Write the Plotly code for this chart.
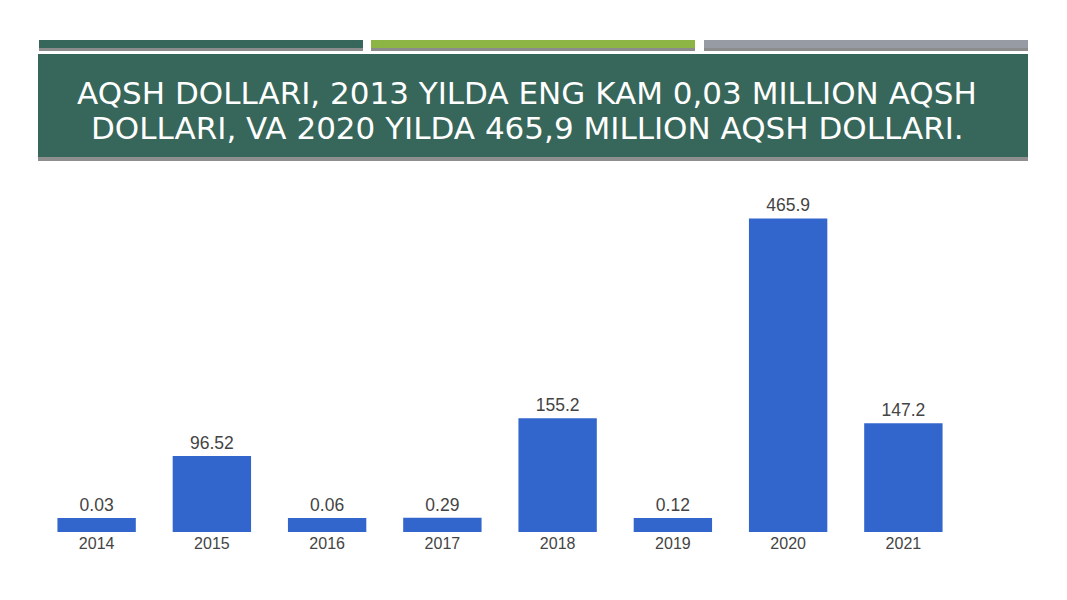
import plotly.graph_objects as go

years = ["2014", "2015", "2016", "2017", "2018", "2019", "2020", "2021"]
values = [0.03, 96.52, 0.06, 0.29, 155.2, 0.12, 465.9, 147.2]
labels = ["0.03", "96.52", "0.06", "0.29", "155.2", "0.12", "465.9", "147.2"]
title_lines = ["AQSH DOLLARI, 2013 YILDA ENG KAM 0,03 MILLION AQSH",
               "DOLLARI, VA 2020 YILDA 465,9 MILLION AQSH DOLLARI."]

W, H = 1067, 600
axis_floor = -21.8  # visual floor so tiny values remain visible as in the original

def px(x):
    return x / W

def py(y):
    return 1 - y / H

fig = go.Figure()
fig.add_trace(go.Bar(
    x=years,
    y=[v - axis_floor for v in values],
    base=axis_floor,
    marker=dict(color="#3366CC", line=dict(width=0)),
    width=0.68,
    text=labels,
    textposition="outside",
    cliponaxis=False,
    textfont=dict(family="Liberation Sans, Arial, sans-serif", size=17.5, color="#444444"),
    hoverinfo="skip",
))

shapes = []
# top strips
strips = [(39, 363, "#37665A"), (371, 695, "#8CB545"), (704, 1028, "#969BA4")]
for x0, x1, c in strips:
    shapes.append(dict(type="rect", xref="paper", yref="paper",
                       x0=px(x0), x1=px(x1), y0=py(51), y1=py(48),
                       fillcolor="#8c8c8c", line=dict(width=0), layer="below"))
    shapes.append(dict(type="rect", xref="paper", yref="paper",
                       x0=px(x0), x1=px(x1), y0=py(48), y1=py(40),
                       fillcolor=c, line=dict(width=0), layer="below"))
# title box with shadow
shapes.append(dict(type="rect", xref="paper", yref="paper",
                   x0=px(38), x1=px(1028), y0=py(161), y1=py(156),
                   fillcolor="#8f8f8f", line=dict(width=0), layer="below"))
shapes.append(dict(type="rect", xref="paper", yref="paper",
                   x0=px(38), x1=px(1028), y0=py(157), y1=py(54),
                   fillcolor="#37665A", line=dict(width=0), layer="below"))

annotations = []
for line, yc in zip(title_lines, [93, 128]):
    annotations.append(dict(
        xref="paper", yref="paper", x=px(527), y=py(yc),
        text=line, showarrow=False,
        font=dict(family="DejaVu Sans, sans-serif", size=31, color="white"),
        align="center", xanchor="center", yanchor="middle",
    ))

fig.update_layout(
    width=W, height=H,
    margin=dict(l=0, r=0, t=0, b=0),
    paper_bgcolor="white", plot_bgcolor="white",
    shapes=shapes, annotations=annotations,
    showlegend=False,
    bargap=0.32,
    xaxis=dict(domain=[px(39), px(961)], range=[-0.5, 7.5], showgrid=False,
               showline=False, zeroline=False, ticks="",
               tickfont=dict(family="Liberation Sans, Arial, sans-serif", size=16, color="#444444"),
               ticklabelstandoff=0),
    yaxis=dict(domain=[py(532), py(196)], range=[axis_floor, 500.7],
               visible=False, showgrid=False, zeroline=False),
)

fig.write_html("out.html", config={"displayModeBar": False},
               post_script="document.body.style.margin='0px';")
